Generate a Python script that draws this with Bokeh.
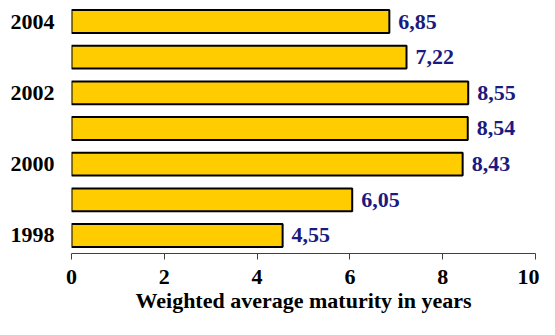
from bokeh.plotting import figure
from bokeh.models import ColumnDataSource, FixedTicker, Range1d
from bokeh.embed import file_html
from bokeh.resources import INLINE

years = [1998, 1999, 2000, 2001, 2002, 2003, 2004]
values = [4.55, 6.05, 8.43, 8.54, 8.55, 7.22, 6.85]
value_labels = ["4,55", "6,05", "8,43", "8,54", "8,55", "7,22", "6,85"]
year_ticks = [1998, 2000, 2002, 2004]
x_ticks = [0, 2, 4, 6, 8, 10]

src = ColumnDataSource(dict(y=years, v=values, lab=value_labels))

FONT = "Liberation Serif"
FS = "22px"

p = figure(width=539, height=319, output_backend="svg", toolbar_location=None,
           x_range=Range1d(0, 10), y_range=Range1d(1997.495, 2004.589),
           min_border_left=71, min_border_right=4, min_border_top=0, min_border_bottom=66)
p.outline_line_color = None
p.grid.visible = False

p.hbar(y="y", left=0, right="v", height=0.64, source=src,
       fill_color="#FFCC00", line_color="black", line_width=2)
p.text(x="v", y="y", text="lab", source=src, x_offset=9,
       text_align="left", text_baseline="middle",
       text_font=FONT, text_font_style="bold",
       text_font_size=FS, text_color="#1a1a80")

xa = p.xaxis[0]
xa.ticker = FixedTicker(ticks=x_ticks)
xa.minor_tick_line_color = None
xa.major_tick_in = 0
xa.major_tick_out = 6
xa.axis_line_color = "#404040"
xa.major_tick_line_color = "#404040"
xa.major_label_standoff = 10
xa.major_label_text_font = FONT
xa.major_label_text_font_style = "bold"
xa.major_label_text_font_size = FS
xa.major_label_text_color = "black"
xa.axis_label = "Weighted average maturity in years"
xa.axis_label_text_font = FONT
xa.axis_label_text_font_style = "bold"
xa.axis_label_text_font_size = FS
xa.axis_label_text_color = "black"
xa.axis_label_standoff = 1

ya = p.yaxis[0]
ya.ticker = FixedTicker(ticks=year_ticks)
ya.minor_tick_line_color = None
ya.major_tick_line_color = None
ya.axis_line_color = None
ya.major_tick_in = 0
ya.major_tick_out = 0
ya.major_label_standoff = 17
ya.major_label_text_font = FONT
ya.major_label_text_font_style = "bold"
ya.major_label_text_font_size = FS
ya.major_label_text_color = "black"

open("out.html", "w").write(file_html(p, INLINE))
